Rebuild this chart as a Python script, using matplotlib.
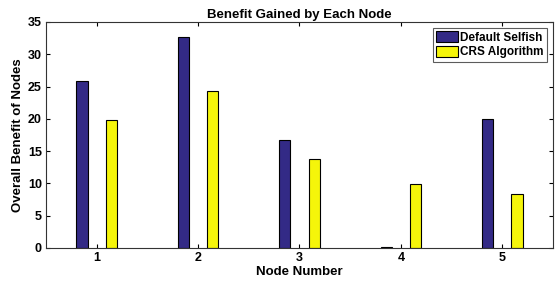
import matplotlib
matplotlib.use("Agg")
import matplotlib.pyplot as plt
import numpy as np

plt.rcParams['font.family'] = ['Liberation Sans', 'DejaVu Sans']
plt.rcParams['font.weight'] = 'bold'

nodes = [1, 2, 3, 4, 5]
default_selfish = [25.8, 32.6, 16.7, 0.1, 19.9]
crs_algorithm = [19.8, 24.3, 13.8, 9.85, 8.4]
series_names = ['Default Selfish', 'CRS Algorithm']

fig = plt.figure(figsize=(5.58, 2.82), dpi=100)
ax = fig.add_axes([0.0824, 0.1206, 0.9086, 0.8014])

x = np.array(nodes)
w = 0.11
ax.bar(x - 0.145, default_selfish, w, color='#332a86', edgecolor='black', linewidth=0.8, label=series_names[0])
ax.bar(x + 0.145, crs_algorithm, w, color='#f5f50a', edgecolor='black', linewidth=0.8, label=series_names[1])

ax.set_xlim(0.5, 5.5)
ax.set_ylim(0, 35)
ax.set_xticks(nodes)
ax.set_yticks(range(0, 36, 5))
ax.tick_params(direction='in', top=True, right=True, labelsize=9, length=3, width=0.8, pad=3)
for lab in ax.get_xticklabels() + ax.get_yticklabels():
    lab.set_fontweight('bold')
for s in ax.spines.values():
    s.set_linewidth(0.8)
    s.set_color('#333333')

ax.set_title('Benefit Gained by Each Node', fontsize=9.5, fontweight='bold', pad=3)
ax.set_xlabel('Node Number', fontsize=9.5, fontweight='bold', labelpad=1)
ax.set_ylabel('Overall Benefit of Nodes', fontsize=9.5, fontweight='bold', labelpad=3)

leg = ax.legend(loc='upper right', fontsize=8.5, frameon=True, fancybox=False, edgecolor='#333333',
                handlelength=1.8, handleheight=1.0, handletextpad=0.2, borderpad=0.3, labelspacing=0.2,
                borderaxespad=0.5)
leg.get_frame().set_linewidth(0.8)
for t in leg.get_texts():
    t.set_fontweight('bold')

fig.savefig('out.png', dpi=100)
